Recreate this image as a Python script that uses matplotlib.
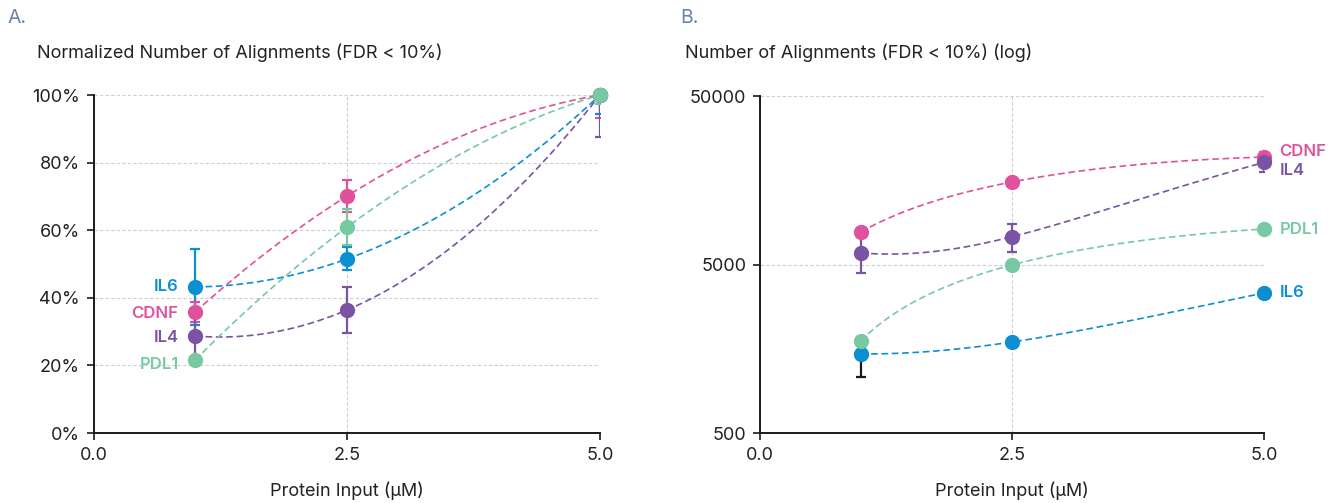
import numpy as np
import matplotlib
matplotlib.use("Agg")
import matplotlib.pyplot as plt
from matplotlib.ticker import FixedLocator, NullLocator, FuncFormatter

plt.rcParams['font.family'] = ['Inter', 'DejaVu Sans']

# ---------------- data ----------------
x_vals = [1.0, 2.5, 5.0]
series = ["IL6", "CDNF", "IL4", "PDL1"]

# Panel A: normalized number of alignments (%)
normA = {
    "IL6":  [43.2, 51.5, 100.0],
    "CDNF": [35.8, 70.1, 100.0],
    "IL4":  [28.7, 36.4, 100.0],
    "PDL1": [21.6, 60.9, 100.0],
}
errA = {
    "IL6":  [11.2, 3.4, 5.6],
    "CDNF": [3.0, 4.8, 6.8],
    "IL4":  [7.0, 6.7, 12.4],
    "PDL1": [0.0, 5.4, 2.7],
}

# Panel B: number of alignments (log scale)
countB = {
    "IL6":  [1472, 1734, 3388],
    "CDNF": [7800, 15450, 21700],
    "IL4":  [5850, 7310, 20200],
    "PDL1": [1758, 4970, 8120],
}
errB = {
    "IL6":  [390, 0, 0],
    "CDNF": [0, 0, 1700],
    "IL4":  [1400, 1370, 2600],
    "PDL1": [0, 300, 0],
}

xticks = [0.0, 2.5, 5.0]
yticksA = [0, 20, 40, 60, 80, 100]
yticksB = [500, 5000, 50000]

colors = {"IL6": "#0b8fd2", "CDNF": "#e0519b", "IL4": "#7a53a5", "PDL1": "#77c9a1"}
grid_c = "#c9cedb"
text_c = "#222222"

# label offsets (points) in each panel
offA = {"IL6": (-12, 0), "CDNF": (-12, -1), "IL4": (-12, -1), "PDL1": (-12, -3)}
offB = {"CDNF": (11, 4), "IL4": (11, -6), "PDL1": (11, 0), "IL6": (11, 0)}

fig = plt.figure(figsize=(13.38, 5.03), dpi=100)
axA = fig.add_axes([94/1338, 70/503, 506/1338, 338/503])
axB = fig.add_axes([760/1338, 70/503, 504/1338, 337/503])

xs = np.linspace(1, 5, 200)


def style(ax):
    for s in ["top", "right"]:
        ax.spines[s].set_visible(False)
    for s in ["left", "bottom"]:
        ax.spines[s].set_linewidth(1.4)
        ax.spines[s].set_color("#1a1a1a")
    ax.tick_params(axis="both", direction="out", length=5, width=1.2,
                   labelsize=13, colors="#1a1a1a", labelcolor=text_c, pad=5)
    ax.set_xlim(0, 5)
    ax.xaxis.set_major_locator(FixedLocator(xticks))
    ax.xaxis.set_major_formatter(FuncFormatter(lambda v, p: f"{v:.1f}"))
    ax.grid(True, which="major", color=grid_c, linestyle=(0, (3, 2)), linewidth=0.8)
    ax.set_axisbelow(True)
    ax.set_xlabel("Protein Input (µM)", fontsize=13, labelpad=13, color=text_c)


def draw(ax, data, errs, label_idx, offs, ha, ecol_override=None):
    for name in series:
        y = np.array(data[name], dtype=float)
        c = colors[name]
        coef = np.polyfit(x_vals, y, 2)
        ax.plot(xs, np.polyval(coef, xs), color=c, lw=1.2, ls=(0, (4, 2.2)), zorder=2)
        e = np.array(errs[name], dtype=float)
        ecol = (ecol_override or {}).get(name, c)
        mask = e > 0
        if mask.any():
            ax.errorbar(np.array(x_vals)[mask], y[mask], yerr=e[mask], fmt="none",
                        ecolor=ecol, elinewidth=1.6, capsize=3.5, capthick=1.6, zorder=3)
        ax.plot(x_vals, y, "o", color=c, ms=10, zorder=4, clip_on=False)
        ax.annotate(name, (x_vals[label_idx], y[label_idx]), xytext=offs[name],
                    textcoords="offset points", ha=ha, va="center", color=c,
                    fontsize=12, fontweight="semibold", annotation_clip=False)


# ---------- Panel A ----------
style(axA)
axA.set_ylim(0, 100)
axA.yaxis.set_major_locator(FixedLocator(yticksA))
axA.yaxis.set_major_formatter(FuncFormatter(lambda v, p: f"{int(v)}%"))
draw(axA, normA, errA, 0, offA, "right")

# ---------- Panel B ----------
style(axB)
axB.set_yscale("log")
axB.set_ylim(500, 50000)
axB.yaxis.set_major_locator(FixedLocator(yticksB))
axB.yaxis.set_minor_locator(NullLocator())
axB.yaxis.set_major_formatter(FuncFormatter(lambda v, p: f"{int(v)}"))
draw(axB, countB, errB, -1, offB, "left", ecol_override={"IL6": "#1a1a1a"})

# ---------- titles ----------
fig.text(8/1338, 1 - 18/503, "A.", fontsize=14, color="#6d80a6", va="center", ha="left")
fig.text(680/1338, 1 - 18/503, "B.", fontsize=14, color="#6d80a6", va="center", ha="left")
fig.text(37/1338, 1 - 53/503, "Normalized Number of Alignments (FDR < 10%)", fontsize=13,
         color=text_c, va="center", ha="left")
fig.text(685/1338, 1 - 53/503, "Number of Alignments (FDR < 10%) (log)", fontsize=13,
         color=text_c, va="center", ha="left")

fig.savefig("out.png", dpi=100)
